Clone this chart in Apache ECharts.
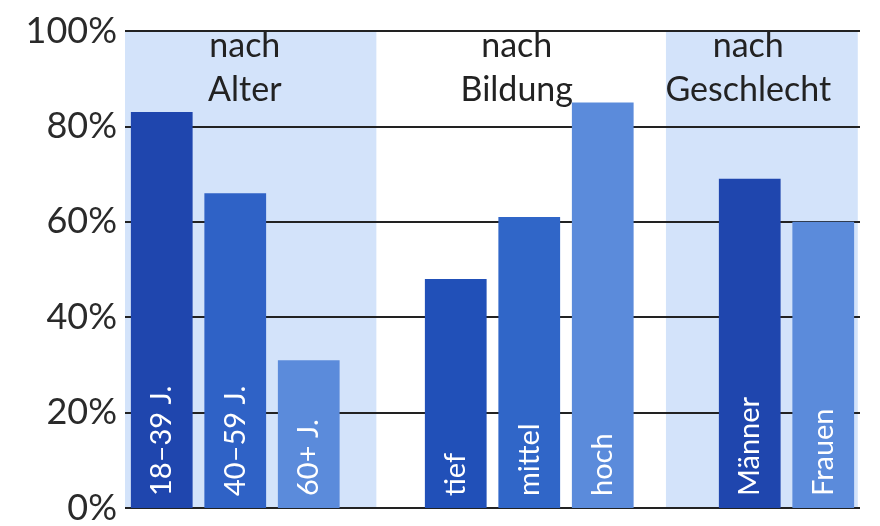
<!DOCTYPE html>
<html>
<head>
<meta charset="utf-8">
<script src="https://cdn.jsdelivr.net/npm/echarts@6/dist/echarts.min.js"></script>
<style>
html,body{margin:0;padding:0;background:#fff;}
#chart{width:880px;height:526px;}
</style>
</head>
<body>
<div id="chart"></div>
<script>
// Categories ('' = spacing slot between groups)
const categories = ['18–39 J.', '40–59 J.', '60+ J.', '', 'tief', 'mittel', 'hoch', '', 'Männer', 'Frauen'];
const values = [83, 66, 31, null, 48, 61, 85, null, 69, 60];
const barColors = ['#1f46ae', '#2f62c6', '#5b8bdb', '#fff', '#2150b8', '#3066c8', '#5b8bdb', '#fff', '#1f46ae', '#5b8bdb'];
const yTicks = [0, 20, 40, 60, 80, 100];
const groupLabels = ['nach\nAlter', 'nach\nBildung', 'nach\nGeschlecht'];
// group ranges on slot scale (0..10)
const bandRanges = [[0, 3.42], [7.36, 9.97]];
const labelRanges = [[0, 3.26], [4.0, 6.66], [7.36, 9.6]];

const FONT = 'Lato, "Noto Sans", sans-serif';
const chart = echarts.init(document.getElementById('chart'), null, {renderer: 'canvas'});
chart.setOption({
  backgroundColor: '#fff',
  animation: false,
  textStyle: {fontFamily: FONT},
  grid: {left: 125, right: 20, top: 31, bottom: 16},
  xAxis: [
    {type: 'category', data: categories, axisLine: {show: false}, axisTick: {show: false}, axisLabel: {show: false}},
    {type: 'value', min: 0, max: 10, show: false}
  ],
  yAxis: {
    type: 'value', min: 0, max: 100, interval: 20,
    axisLine: {show: false}, axisTick: {show: false},
    axisLabel: {formatter: v => v + '%', fontSize: 36, color: '#2a2a2a', margin: 8, fontFamily: FONT},
    splitLine: {lineStyle: {color: '#222', width: 2}}
  },
  series: [
    {
      type: 'line', xAxisIndex: 1, data: [], z: -1, silent: true,
      markArea: {
        silent: true, z: -1,
        itemStyle: {color: '#d3e3fa'},
        data: bandRanges.map(r => [{xAxis: r[0], yAxis: 0}, {xAxis: r[1], yAxis: 100}])
      }
    },
    {
      type: 'bar', data: values.map((v, i) => ({value: v, itemStyle: {color: barColors[i]}})),
      barWidth: '84%', z: 2,
      label: {
        show: true, position: 'insideBottom', rotate: 90, align: 'left', verticalAlign: 'middle',
        distance: 12, color: '#fff', fontSize: 29, fontFamily: FONT,
        formatter: p => categories[p.dataIndex]
      }
    },
    {
      type: 'line', xAxisIndex: 1, data: [], z: 5, silent: true,
      markArea: {
        silent: true,
        itemStyle: {color: 'rgba(0,0,0,0)'},
        label: {show: true, position: 'insideTop', distance: 0, offset: [0, -7], fontSize: 34, lineHeight: 44, color: '#222', fontFamily: FONT},
        data: labelRanges.map((r, i) => [{name: groupLabels[i], xAxis: r[0], yAxis: 0}, {xAxis: r[1], yAxis: 100}])
      }
    }
  ]
});
</script>
</body>
</html>
